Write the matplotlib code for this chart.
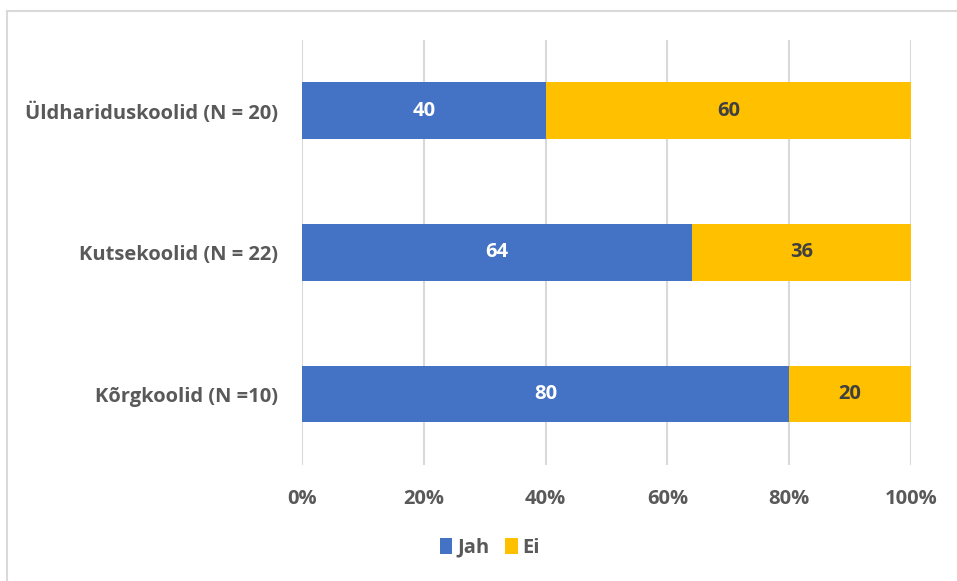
import matplotlib
matplotlib.use("Agg")
import matplotlib.pyplot as plt
from matplotlib.lines import Line2D
import numpy as np

categories = ["Üldhariduskoolid (N = 20)", "Kutsekoolid (N = 22)", "Kõrgkoolid (N =10)"]
jah = [40, 64, 80]
ei = [60, 36, 20]
series_names = ["Jah", "Ei"]
x_ticks = [0, 20, 40, 60, 80, 100]
x_tick_labels = ["0%", "20%", "40%", "60%", "80%", "100%"]

plt.rcParams["font.family"] = ["Open Sans", "DejaVu Sans"]
plt.rcParams["font.weight"] = "bold"

blue = "#4472C4"
gold = "#FFC000"
text_gray = "#595959"
fs = 14.5

fig = plt.figure(figsize=(9.57, 5.81), dpi=100)
ax = fig.add_axes([0.3156, 0.1997, 0.952 - 0.3156, 0.9312 - 0.1997])

y = np.arange(len(categories))
bars_jah = ax.barh(y, jah, height=0.4, color=blue, label=series_names[0], zorder=3)
bars_ei = ax.barh(y, ei, left=jah, height=0.4, color=gold, label=series_names[1], zorder=3)

for b, v in zip(bars_jah, jah):
    ax.text(b.get_x() + b.get_width() / 2, b.get_y() + b.get_height() / 2, str(v),
            ha="center", va="center", color="white", fontsize=fs, fontweight="bold", zorder=4)
for b, v in zip(bars_ei, ei):
    ax.text(b.get_x() + b.get_width() / 2, b.get_y() + b.get_height() / 2, str(v),
            ha="center", va="center", color="#404040", fontsize=fs, fontweight="bold", zorder=4)

ax.set_xlim(0, 100)
ax.set_ylim(len(categories) - 0.5, -0.5)
ax.set_yticks(y)
ax.set_yticklabels(categories, fontsize=fs, color=text_gray, fontweight="bold")
ax.set_xticks(x_ticks)
ax.set_xticklabels(x_tick_labels, fontsize=fs, color=text_gray, fontweight="bold")
ax.tick_params(axis="both", length=0)
ax.tick_params(axis="y", pad=17)
ax.tick_params(axis="x", pad=17)
ax.grid(axis="x", color="#D9D9D9", linewidth=1.5, zorder=0)
for s in ax.spines.values():
    s.set_visible(False)

leg = fig.legend(loc="center", bbox_to_anchor=(0.512, 0.057), ncol=2, frameon=False,
                 fontsize=fs, handlelength=0.6, handleheight=0.8, handletextpad=0.25,
                 columnspacing=0.8)
for t in leg.get_texts():
    t.set_color(text_gray)

# chart border (top and left edges visible)
fig.add_artist(Line2D([7 / 957, 7 / 957], [0, 1 - 11 / 581], color="#D9D9D9", linewidth=1.5))
fig.add_artist(Line2D([7 / 957, 1], [1 - 11 / 581, 1 - 11 / 581], color="#D9D9D9", linewidth=1.5))

fig.savefig("out.png", dpi=100)
